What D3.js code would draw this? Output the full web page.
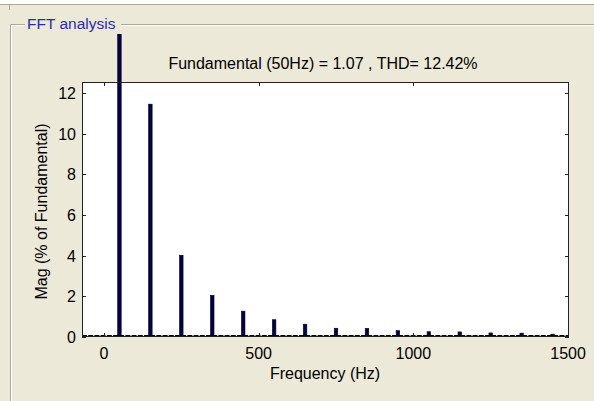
<!DOCTYPE html>
<html>
<head>
<meta charset="utf-8">
<script src="https://cdn.jsdelivr.net/npm/d3@7"></script>
<style>
  body { margin: 0; background: #ece9d8; }
  svg { display: block; }
  text { font-family: "Liberation Sans", Arial, sans-serif; }
</style>
</head>
<body>
<div id="chart"></div>
<script>
// harmonic frequencies (Hz) and magnitudes (% of fundamental)
var freqs = [50, 150, 250, 350, 450, 550, 650, 750, 850, 950, 1050, 1150, 1250, 1350, 1450],
    mags = [100, 11.45, 4.02, 2.05, 1.27, 0.85, 0.63, 0.43, 0.42, 0.31, 0.26, 0.25, 0.2, 0.19, 0.14],
    xTicks = [0, 500, 1000, 1500],
    yTicks = [0, 2, 4, 6, 8, 10, 12],
    title = 'Fundamental (50Hz) = 1.07 , THD= 12.42%';

var W = 594, H = 401,
    box = {left: 82, right: 569, top: 82, bottom: 337},
    x = d3.scaleLinear().domain([-71, 1503]).range([box.left, box.right]),
    y = d3.scaleLinear().domain([0, 12.54]).range([box.bottom, box.top]);

var svg = d3.select('#chart').append('svg')
    .attr('width', W)
    .attr('height', H);

// window frame / group box
svg.append('rect').attr('x', 0).attr('y', 0).attr('width', W).attr('height', 4).attr('fill', '#fff');
svg.append('line').attr('x1', 0).attr('x2', W).attr('y1', 4.5).attr('y2', 4.5).attr('stroke', '#aca899');
svg.append('line').attr('x1', 9.5).attr('x2', 9.5).attr('y1', 5).attr('y2', 10).attr('stroke', '#aca899');

var frame = svg.append('g');
frame.append('path')
  .attr('d', 'M25,24.5 H10.5 V' + H + ' M121,24.5 H' + W)
  .attr('fill', 'none').attr('stroke', '#aca899');
frame.append('path')
  .attr('d', 'M25,25.5 H11.5 V' + H + ' M121,25.5 H' + W)
  .attr('fill', 'none').attr('stroke', '#fff');
frame.append('text')
  .attr('x', 27).attr('y', 29)
  .attr('fill', '#2b2bb0')
  .style('font-size', '15.5px')
  .text('FFT analysis');

// axes background
svg.append('rect')
  .attr('x', box.left).attr('y', box.top)
  .attr('width', box.right - box.left).attr('height', box.bottom - box.top)
  .attr('fill', '#fff');

// title
svg.append('text')
  .attr('x', 323).attr('y', 69)
  .attr('text-anchor', 'middle')
  .style('font-size', '16px')
  .text(title);

// bars
svg.append('clipPath').attr('id', 'clip')
  .append('rect').attr('x', 0).attr('y', 34).attr('width', W).attr('height', box.bottom - 34);

svg.append('g').attr('clip-path', 'url(#clip)')
  .selectAll('rect')
  .data(freqs)
  .enter().append('rect')
    .attr('x', function(d) { return x(d) - 1.75; })
    .attr('width', 3.5)
    .attr('y', function(d, i) { return y(mags[i]); })
    .attr('height', function(d, i) { return box.bottom - y(mags[i]); })
    .attr('fill', '#000050')
    .attr('stroke', '#000')
    .attr('stroke-width', 0.6);

// dashed baseline (tiny interharmonic bars)
svg.append('line')
  .attr('x1', box.left).attr('x2', box.right)
  .attr('y1', box.bottom - 1.5).attr('y2', box.bottom - 1.5)
  .attr('stroke', '#000').attr('stroke-width', 1)
  .attr('stroke-dasharray', '5,1.2');

// axes box
svg.append('rect')
  .attr('x', box.left + 0.5).attr('y', box.top + 0.5)
  .attr('width', box.right - box.left - 1).attr('height', box.bottom - box.top - 1)
  .attr('fill', 'none').attr('stroke', '#222');

// ticks (inward, all sides)
var tk = 4, axes = svg.append('g').attr('stroke', '#222');
xTicks.forEach(function(t) {
  axes.append('line').attr('x1', Math.round(x(t)) + 0.5).attr('x2', Math.round(x(t)) + 0.5)
    .attr('y1', box.bottom).attr('y2', box.bottom - tk);
  axes.append('line').attr('x1', Math.round(x(t)) + 0.5).attr('x2', Math.round(x(t)) + 0.5)
    .attr('y1', box.top).attr('y2', box.top + tk);
});
yTicks.forEach(function(t) {
  axes.append('line').attr('y1', Math.round(y(t)) + 0.5).attr('y2', Math.round(y(t)) + 0.5)
    .attr('x1', box.left).attr('x2', box.left + tk);
  axes.append('line').attr('y1', Math.round(y(t)) + 0.5).attr('y2', Math.round(y(t)) + 0.5)
    .attr('x1', box.right).attr('x2', box.right - tk);
});

// tick labels
svg.append('g').selectAll('text')
  .data(xTicks)
  .enter().append('text')
    .attr('x', function(d) { return x(d); })
    .attr('y', 359)
    .attr('text-anchor', 'middle')
    .style('font-size', '16px')
    .text(function(d) { return d; });

svg.append('g').selectAll('text')
  .data(yTicks)
  .enter().append('text')
    .attr('x', 76)
    .attr('y', function(d) { return y(d) + 6; })
    .attr('text-anchor', 'end')
    .style('font-size', '16px')
    .text(function(d) { return d; });

// axis labels
svg.append('text')
  .attr('x', 325).attr('y', 379)
  .attr('text-anchor', 'middle')
  .style('font-size', '16px')
  .text('Frequency (Hz)');

svg.append('text')
  .attr('transform', 'translate(47,' + ((box.top + box.bottom) / 2 + 2) + ') rotate(-90)')
  .attr('text-anchor', 'middle')
  .style('font-size', '16px')
  .text('Mag (% of Fundamental)');
</script>
</body>
</html>
